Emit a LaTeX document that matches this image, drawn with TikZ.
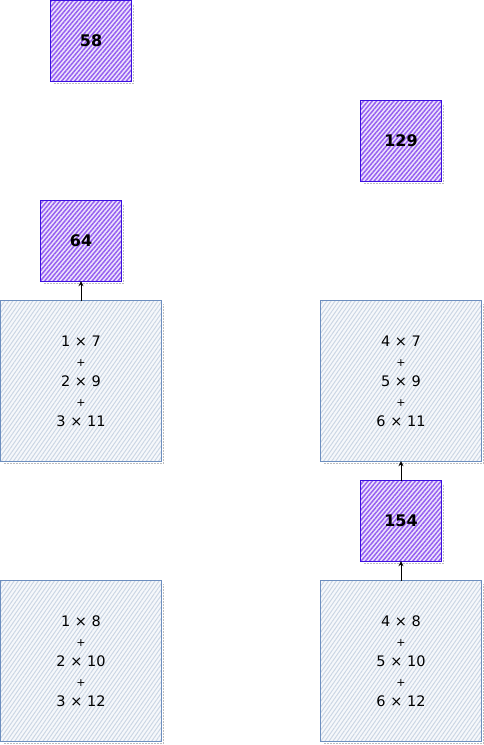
\documentclass[tikz,border=0pt]{standalone}
\usepackage{fontspec}
\setmainfont{DejaVu Sans}
\usetikzlibrary{patterns.meta,arrows.meta}
\definecolor{purpstroke}{HTML}{3B10E0}
\definecolor{purpfill}{HTML}{EEE4FC}
\definecolor{purphatch}{HTML}{9560F0}
\definecolor{bluestroke}{HTML}{6C8EBF}
\definecolor{bluefill}{HTML}{F6F8FB}
\definecolor{bluehatch}{HTML}{CBD6E4}
\definecolor{shadowgray}{HTML}{BDBDBD}
\newcommand{\pl}{{\fontsize{11}{20}\selectfont +}}
\begin{document}
\begin{tikzpicture}[x=1pt,y=-1pt,
  sumbox/.style={minimum width=80pt,minimum height=80pt,inner sep=0pt,
    fill=purpfill,postaction={pattern={Lines[angle=50,distance=3.3pt,line width=1.5pt]},pattern color=purphatch},
    font=\bfseries\fontsize{16}{19}\selectfont,text=black},
  prodbox/.style={minimum width=160pt,minimum height=160pt,inner sep=0pt,
    fill=bluefill,postaction={pattern={Lines[angle=55,distance=3.3pt,line width=1pt]},pattern color=bluehatch},
    font=\fontsize{14.5}{20}\selectfont,text=black,align=center},
  sumedge/.style={draw=purpstroke,line width=1pt},
  prodedge/.style={draw=bluestroke,line width=1pt},
  shad/.style={draw=shadowgray,line width=0.7pt,dash pattern=on 2pt off 1pt},
  conn/.style={draw=black,line width=0.7pt,-{Stealth[open,length=5pt,width=5pt]}}
]
\useasboundingbox (0,0) rectangle (484,745);
% shadows
\foreach \cx/\cy/\s in {91/41/40,401/141/40,81/241/40,401/521/40,81/381/80,401/381/80,81/661/80,401/661/80}{
  \draw[shad] (\cx-\s+3,\cy+\s+2.5) -- (\cx+\s+2.5,\cy+\s+2.5) -- (\cx+\s+2.5,\cy-\s+3);
}
\node[sumbox] (s58) at (91,41) {58};
\node[sumbox] (s129) at (401,141) {129};
\node[sumbox] (s64) at (81,241) {64};
\node[sumbox] (s154) at (401,521) {154};
\node[prodbox] (p1) at (81,381) {1 × 7\\\pl\\2 × 9\\\pl\\3 × 11};
\node[prodbox] (p2) at (401,381) {4 × 7\\\pl\\5 × 9\\\pl\\6 × 11};
\node[prodbox] (p3) at (81,661) {1 × 8\\\pl\\2 × 10\\\pl\\3 × 12};
\node[prodbox] (p4) at (401,661) {4 × 8\\\pl\\5 × 10\\\pl\\6 × 12};
\foreach \n in {s58,s129,s64,s154}{\draw[sumedge] (\n.north west) rectangle (\n.south east);}
\foreach \n in {p1,p2,p3,p4}{\draw[prodedge] (\n.north west) rectangle (\n.south east);}
\draw[conn] (p1.north) -- (s64.south);
\draw[conn] (s154.north) -- (p2.south);
\draw[conn] (p4.north) -- (s154.south);
\end{tikzpicture}
\end{document}
